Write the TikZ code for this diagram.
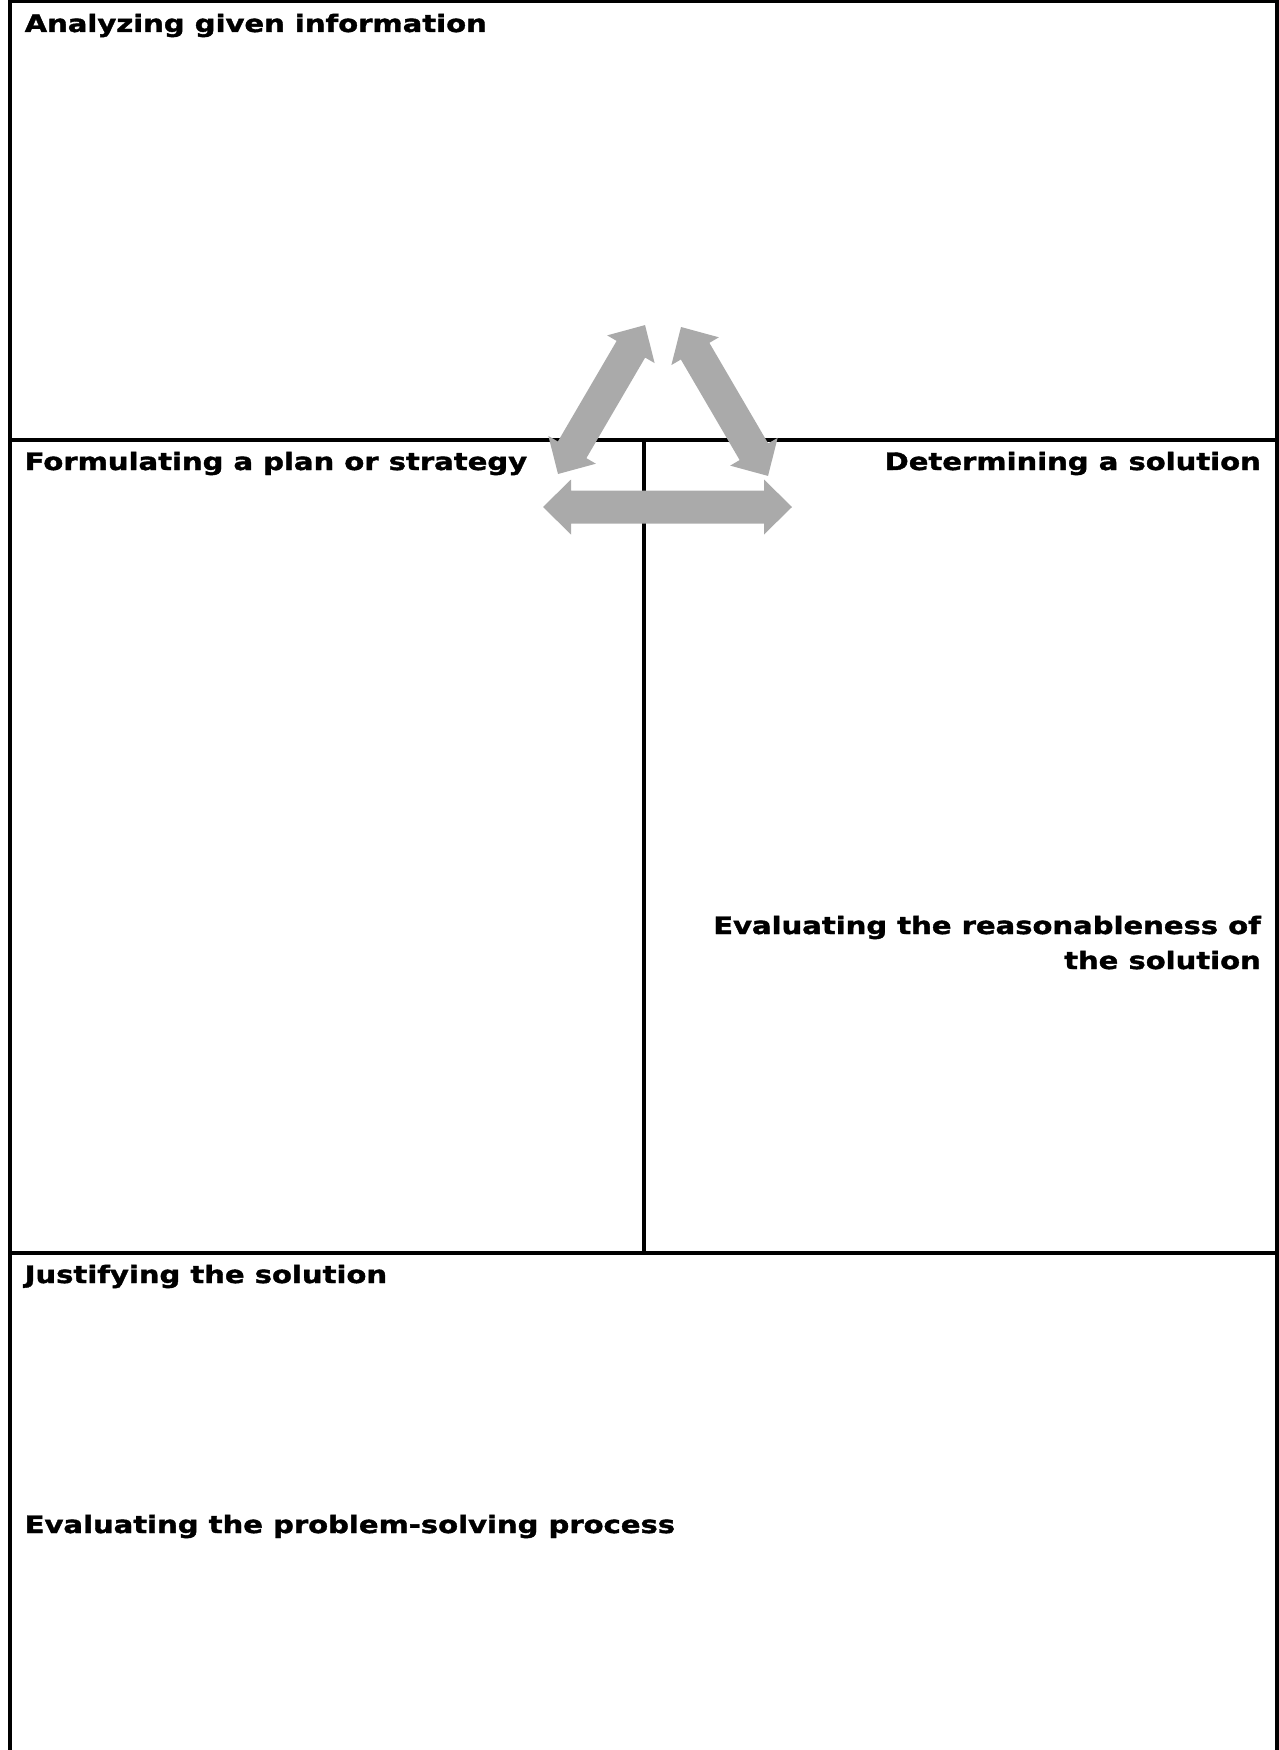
\documentclass[tikz,border=0pt]{standalone}
\usepackage{fontspec}
\setmainfont{DejaVu Sans}
\newfontfamily\lblfont[FakeStretch=1.21,FakeBold=1.5]{DejaVu Sans Bold}
\definecolor{arrowgray}{RGB}{170,170,170}
\newcommand\grayarrow[4]{%
  \begin{scope}[shift={(#1,#2)},rotate=#3]
    \fill[arrowgray] (0,0) -- (28,27.5) -- (28,16.5) -- (#4-28,16.5) -- (#4-28,27.5) -- (#4,0)
      -- (#4-28,-27.5) -- (#4-28,-16.5) -- (28,-16.5) -- (28,-27.5) -- cycle;
  \end{scope}}
\begin{document}
\begin{tikzpicture}[x=1pt,y=1pt,
  frame/.style={line width=3.5pt,black},
  lbl/.style={inner sep=0pt,font=\fontsize{24}{35}\lblfont}]
\useasboundingbox (0,0) rectangle (1279,-1750);
% frame lines
\coordinate (tl) at (10,-1.75);
\coordinate (tr) at (1277,-1.75);
\coordinate (bl) at (10,-1750);
\coordinate (br) at (1277,-1750);
\coordinate (ml) at (10,-440);
\coordinate (mr) at (1277,-440);
\coordinate (ll) at (10,-1253);
\coordinate (lr) at (1277,-1253);
\coordinate (vt) at (644,-440);
\coordinate (vb) at (644,-1253);
\draw[frame] (bl) -- (tl) -- (tr) -- (br);
\draw[frame] (ml) -- (mr);
\draw[frame] (ll) -- (lr);
\draw[frame] (vt) -- (vb);
% arrows
\grayarrow{558}{-474}{59.7}{172.5}
\grayarrow{681}{-327}{-59.7}{172.5}
\grayarrow{543}{-507}{0}{249}
% labels
\node[lbl,anchor=base west] (a) at (24.5,-32) {Analyzing given information};
\node[lbl,anchor=base west] (f) at (24.5,-470) {Formulating a plan or strategy};
\node[lbl,anchor=base east] (d) at (1261,-470) {Determining a solution};
\node[lbl,anchor=base east,align=right] (e) at (1261,-969) {Evaluating the reasonableness of\\the solution};
\node[lbl,anchor=base west] (j) at (24.5,-1283) {Justifying the solution};
\node[lbl,anchor=base west] (p) at (24.5,-1533) {Evaluating the problem-solving process};
\end{tikzpicture}
\end{document}
